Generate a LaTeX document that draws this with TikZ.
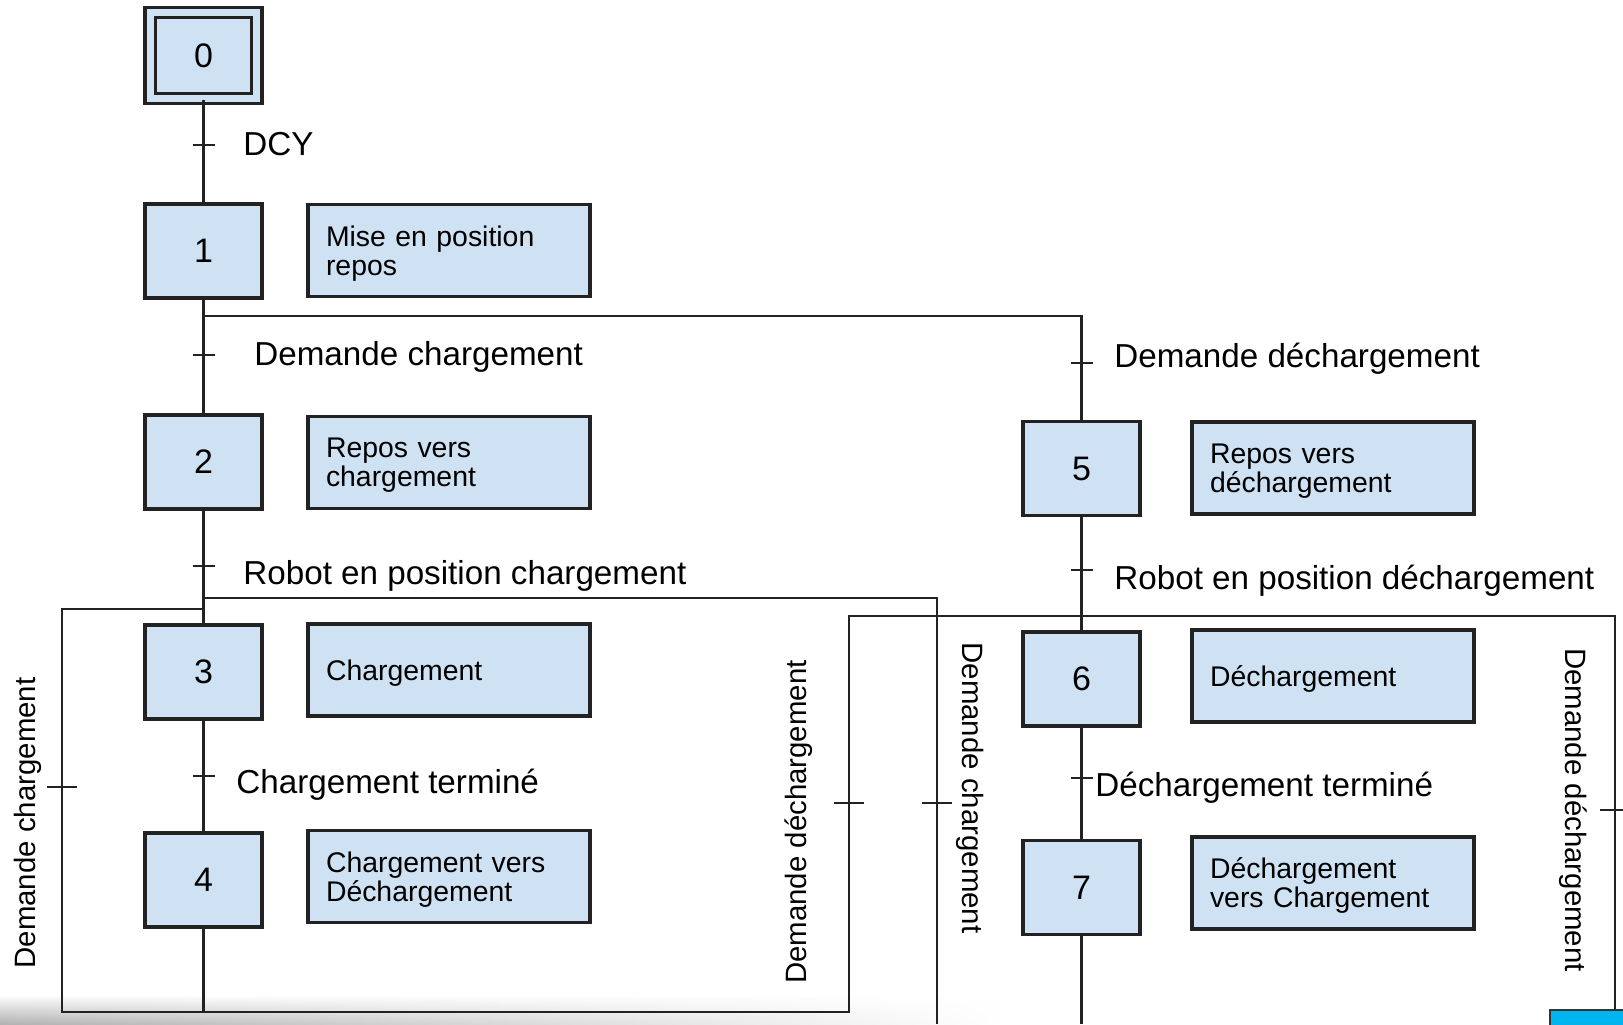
\documentclass[tikz,border=0pt]{standalone}
\usepackage{fontspec}
\setmainfont{Liberation Sans}
\usetikzlibrary{calc,fadings}
\definecolor{stepblue}{HTML}{CFE2F3}
\definecolor{edge}{HTML}{222222}
\definecolor{tabblue}{HTML}{00B4F0}
\def\tick(#1){\draw[lien] ([xshift=-5.5pt]#1) -- ([xshift=5.5pt]#1);}
\def\longtick(#1){\draw[lien] ([xshift=-7.5pt]#1) -- ([xshift=7.5pt]#1);}

\tikzset{
	lien/.style={line width=1.3pt, draw=edge},
	etape/.style={draw=edge, fill=stepblue, line width=1.6pt, minimum width=58.5pt, minimum height=47pt, inner sep=0pt, font=\fontsize{17}{17}\selectfont},
	etapeinit/.style={etape, double=stepblue, double distance=3.6pt, minimum width=53.25pt, minimum height=43pt},
	action/.style={draw=edge, fill=stepblue, line width=1.6pt, minimum height=46pt, text width=123pt, text depth=14.5pt, inner xsep=9pt, align=left, font=\fontsize{14.2}{14.5}\selectfont},
	action1/.style={action, text depth=0pt},
	recept/.style={anchor=base west, inner sep=0pt, font=\fontsize{16.6}{16.6}\selectfont},
	boucle/.style={inner sep=0pt, font=\fontsize{14.7}{14.7}\selectfont},
}

\begin{document}
\begin{tikzpicture}[x=0.5pt, y=-0.5pt]
			%%%%% START %%%%%
			\fill[white] (0, 0) rectangle (1623, 1024);
			\useasboundingbox (0, 0) rectangle (1623, 1024);
			\shade[top color=white, bottom color=black!30, path fading=east] (0, 995) rectangle (1000, 1024);
			
			% etapes, colonne de gauche
			\node[etapeinit] (s0) at (203.5, 55.5) {0};
			\node[etape] (s1) at (203.5, 251) {1};
			\node[etape] (s2) at (203.5, 462) {2};
			\node[etape] (s3) at (203.5, 672) {3};
			\node[etape] (s4) at (203.5, 880) {4};
			
			\node[action] (a1) at (449, 250.5) {Mise en position\\repos};
			\node[action] (a2) at (449, 462.5) {Repos vers\\chargement};
			\node[action1] (a3) at (449, 670) {Chargement};
			\node[action] (a4) at (449, 876.5) {Chargement vers\\Déchargement};
			
			% etapes, colonne de droite
			\node[etape] (s5) at (1081.5, 468.5) {5};
			\node[etape] (s6) at (1081.5, 679) {6};
			\node[etape] (s7) at (1081.5, 887.5) {7};
			
			\node[action] (a5) at (1333, 468) {Repos vers\\déchargement};
			\node[action1] (a6) at (1333, 676) {Déchargement};
			\node[action] (a7) at (1333, 883) {Déchargement\\vers Chargement};
			
			% points de jonction
			\coordinate (d1) at (1081.5, 316);
			\coordinate (j3) at (937, 598);
			\coordinate (b3) at (937, 1024);
			\coordinate (g3) at (62, 609);
			\coordinate (gb) at (62, 1012);
			\coordinate (db) at (849, 1012);
			\coordinate (j6) at (849, 616);
			\coordinate (r6) at (1615, 616);
			\coordinate (rb) at (1615, 1024);
			\coordinate (b7) at (1081.5, 1024);
			
			\draw[lien] (s0) -- (s1);
			\draw[lien] (s1) -- (s2);
			\draw[lien] (s1 |- d1) -- (d1) -- (s5);
			\draw[lien] (s2) -- (s3);
			\draw[lien] (s3 |- j3) -- (j3) -- (b3);
			\draw[lien] (s3) -- (s4);
			\draw[lien] (s4) -- (s4 |- gb);
			\draw[lien] (s3 |- g3) -- (g3) -- (gb) -- (db) -- (j6) -- (r6) -- (rb);
			\draw[lien] (s5) -- (s6);
			\draw[lien] (s6) -- (s7);
			\draw[lien] (s7) -- (b7);
			
			% receptivites
			\tick((203.5, 145))
			\tick((203.5, 355))
			\tick((203.5, 566))
			\tick((203.5, 776))
			\tick((1081.5, 363))
			\tick((1081.5, 570))
			\tick((1081.5, 778))
			\longtick((62, 787))
			\longtick((849, 803))
			\longtick((937, 803))
			\longtick((1615, 810))
			
			\node[recept] (r01) at (243, 155) {DCY};
			\node[recept] (r12) at (254, 365) {Demande chargement};
			\node[recept] (r23) at (243, 584) {Robot en position chargement};
			\node[recept] (r34) at (236, 793) {Chargement terminé};
			\node[recept] (r15) at (1114, 367) {Demande déchargement};
			\node[recept] (r56) at (1114, 589) {Robot en position déchargement};
			\node[recept] (r67) at (1095, 796) {Déchargement terminé};
			
			\node[boucle, rotate=90] (l43) at (28, 823) {Demande chargement};
			\node[boucle, rotate=90] (l46) at (799, 822) {Demande déchargement};
			\node[boucle, rotate=-90] (l73) at (970, 788) {Demande chargement};
			\node[boucle, rotate=-90] (l76) at (1573, 810) {Demande déchargement};
			
			\draw[fill=tabblue, draw=black!80, line width=0.8pt] (1550, 1010) rectangle (1626, 1027);
			%%%%% END %%%%%
\end{tikzpicture}
\end{document}
